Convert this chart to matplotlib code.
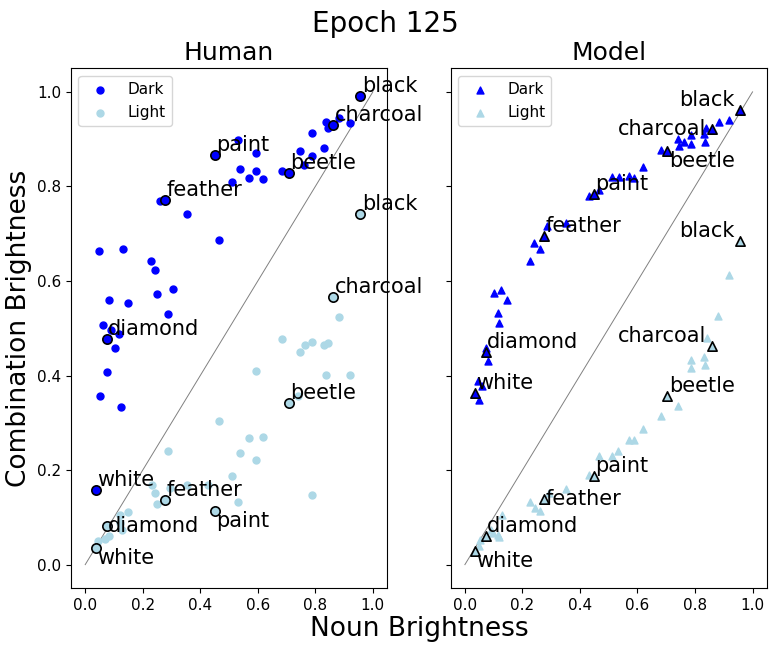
import matplotlib
matplotlib.use('Agg')
import matplotlib.pyplot as plt

# words that get labelled, same order in every highlighted list below
words = ['black', 'charcoal', 'beetle', 'paint', 'feather', 'diamond', 'white']

# Human panel (noun brightness, combination brightness)
human_dark_x = [0.837, 0.845, 0.883, 0.920, 0.787, 0.831, 0.747, 0.789, 0.762, 0.683,
                0.530, 0.593, 0.538, 0.593, 0.571, 0.619, 0.512, 0.260, 0.355, 0.466,
                0.049, 0.130, 0.228, 0.244, 0.306, 0.248, 0.081, 0.148, 0.287, 0.061,
                0.116, 0.090, 0.102, 0.075, 0.052, 0.123]
human_dark_y = [0.937, 0.923, 0.944, 0.935, 0.914, 0.881, 0.875, 0.865, 0.846, 0.832,
                0.898, 0.870, 0.837, 0.833, 0.817, 0.815, 0.810, 0.770, 0.741, 0.686,
                0.664, 0.668, 0.642, 0.623, 0.584, 0.573, 0.559, 0.554, 0.531, 0.506,
                0.488, 0.497, 0.459, 0.407, 0.356, 0.333]
human_light_x = [0.884, 0.683, 0.747, 0.765, 0.788, 0.831, 0.845, 0.593, 0.837, 0.920,
                 0.741, 0.466, 0.571, 0.619, 0.538, 0.593, 0.287, 0.512, 0.787, 0.530,
                 0.243, 0.249, 0.232, 0.295, 0.353, 0.428, 0.148, 0.122, 0.127, 0.122,
                 0.084, 0.069, 0.046]
human_light_y = [0.523, 0.477, 0.449, 0.464, 0.470, 0.464, 0.469, 0.409, 0.401, 0.401,
                 0.356, 0.304, 0.268, 0.271, 0.237, 0.222, 0.240, 0.188, 0.147, 0.132,
                 0.152, 0.129, 0.169, 0.162, 0.169, 0.169, 0.111, 0.106, 0.074, 0.088,
                 0.061, 0.054, 0.049]
human_dark_hl_x = [0.957, 0.862, 0.708, 0.450, 0.278, 0.075, 0.038]
human_dark_hl_y = [0.992, 0.930, 0.828, 0.867, 0.771, 0.477, 0.157]
human_light_hl_x = [0.957, 0.862, 0.708, 0.450, 0.278, 0.075, 0.038]
human_light_hl_y = [0.741, 0.566, 0.341, 0.113, 0.137, 0.082, 0.035]

# Model panel
model_dark_x = [0.919, 0.882, 0.839, 0.830, 0.833, 0.786, 0.741, 0.762, 0.786, 0.743,
                0.681, 0.619, 0.512, 0.536, 0.571, 0.589, 0.431, 0.465, 0.285, 0.350,
                0.241, 0.262, 0.227, 0.100, 0.127, 0.147, 0.116, 0.120, 0.074, 0.081,
                0.046, 0.060, 0.049]
model_dark_y = [0.941, 0.937, 0.923, 0.911, 0.894, 0.908, 0.900, 0.894, 0.890, 0.886,
                0.877, 0.842, 0.820, 0.821, 0.823, 0.817, 0.779, 0.793, 0.717, 0.722,
                0.681, 0.667, 0.643, 0.574, 0.581, 0.560, 0.533, 0.512, 0.459, 0.430,
                0.388, 0.377, 0.349]
model_light_x = [0.919, 0.880, 0.841, 0.785, 0.830, 0.785, 0.833, 0.741, 0.681, 0.619,
                 0.571, 0.589, 0.531, 0.512, 0.465, 0.431, 0.350, 0.292, 0.228, 0.245,
                 0.262, 0.130, 0.120, 0.116, 0.098, 0.089, 0.054, 0.049]
model_light_y = [0.613, 0.526, 0.479, 0.433, 0.440, 0.416, 0.423, 0.335, 0.315, 0.287,
                 0.264, 0.264, 0.240, 0.230, 0.229, 0.190, 0.160, 0.152, 0.132, 0.120,
                 0.113, 0.104, 0.059, 0.063, 0.067, 0.074, 0.053, 0.039]
model_dark_hl_x = [0.956, 0.859, 0.704, 0.449, 0.275, 0.072, 0.035]
model_dark_hl_y = [0.962, 0.922, 0.875, 0.784, 0.696, 0.449, 0.364]
model_light_hl_x = [0.956, 0.859, 0.704, 0.449, 0.275, 0.072, 0.035]
model_light_hl_y = [0.684, 0.462, 0.356, 0.188, 0.139, 0.060, 0.028]

# label placement (ha, va) where it differs from left/bottom
human_align = {('light', 'paint'): ('left', 'top'),
               ('light', 'diamond'): ('left', 'center'),
               ('light', 'white'): ('left', 'top')}
model_align = {('dark', 'black'): ('right', 'bottom'),
               ('dark', 'charcoal'): ('right', 'center'),
               ('dark', 'beetle'): ('left', 'top'),
               ('light', 'black'): ('right', 'bottom'),
               ('light', 'charcoal'): ('right', 'bottom'),
               ('light', 'feather'): ('left', 'center'),
               ('light', 'white'): ('left', 'top')}

fig, axes = plt.subplots(1, 2, figsize=(7.7, 6.5), dpi=100, sharey=True)
fig.subplots_adjust(left=0.092, right=0.996, top=0.895, bottom=0.095, wspace=0.2)


def draw_panel(ax, title, marker, dark, light, dark_hl, light_hl, align):
    ax.plot([0, 1], [0, 1], color='gray', lw=0.7, zorder=1)
    ax.scatter(dark[0], dark[1], s=25, c='blue', marker=marker, label='Dark', zorder=2)
    ax.scatter(light[0], light[1], s=25, c='lightblue', marker=marker, label='Light', zorder=2)
    for group, (xs, ys), col in [('dark', dark_hl, 'blue'), ('light', light_hl, 'lightblue')]:
        ax.scatter(xs, ys, s=45, c=col, marker=marker, edgecolors='black',
                   linewidths=1.2, zorder=3)
        for w, x, y in zip(words, xs, ys):
            ha, va = align.get((group, w), ('left', 'bottom'))
            dx = -4 if ha == 'right' else 1
            ax.annotate(w, (x, y), xytext=(dx, 0), textcoords='offset points',
                        ha=ha, va=va, fontsize=15, zorder=4)
    ax.set_xlim(-0.05, 1.05)
    ax.set_ylim(-0.05, 1.05)
    ax.set_xticks([0, 0.2, 0.4, 0.6, 0.8, 1.0])
    ax.set_yticks([0, 0.2, 0.4, 0.6, 0.8, 1.0])
    ax.tick_params(labelsize=11)
    ax.set_title(title, fontsize=18)
    ax.legend(loc='upper left', fontsize=11)


draw_panel(axes[0], 'Human', 'o', (human_dark_x, human_dark_y), (human_light_x, human_light_y),
           (human_dark_hl_x, human_dark_hl_y), (human_light_hl_x, human_light_hl_y), human_align)
draw_panel(axes[1], 'Model', '^', (model_dark_x, model_dark_y), (model_light_x, model_light_y),
           (model_dark_hl_x, model_dark_hl_y), (model_light_hl_x, model_light_hl_y), model_align)

fig.suptitle('Epoch 125', fontsize=20, y=0.985)
fig.text(0.545, 0.012, 'Noun Brightness', ha='center', va='bottom', fontsize=19)
fig.text(0.008, 0.495, 'Combination Brightness', ha='left', va='center',
         rotation=90, fontsize=19)

fig.savefig('out.png', dpi=100)
